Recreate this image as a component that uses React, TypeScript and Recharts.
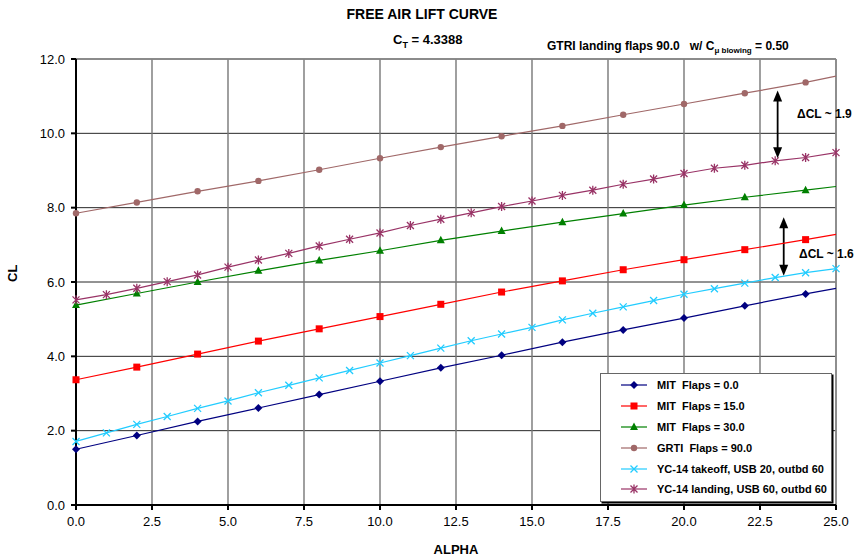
import { CartesianGrid, Line, LineChart, ReferenceLine, XAxis, YAxis } from 'recharts'

// angle of attack for every sample (YC-14 sets are sampled each degree)
const alpha = [0, 1, 2, 3, 4, 5, 6, 7, 8, 9, 10, 11, 12, 13, 14, 15, 16, 17, 18, 19, 20, 21, 22, 23, 24, 25]

// MIT / GTRI sets are read at even alpha, plus the line end at 25
const evenAlpha = [0, 2, 4, 6, 8, 10, 12, 14, 16, 18, 20, 22, 24, 25]
const mitFlaps0 = [1.5, 1.87, 2.25, 2.61, 2.97, 3.33, 3.69, 4.03, 4.38, 4.71, 5.03, 5.36, 5.68, 5.83]
const mitFlaps15 = [3.37, 3.71, 4.06, 4.41, 4.74, 5.07, 5.4, 5.73, 6.03, 6.33, 6.6, 6.87, 7.14, 7.28]
const mitFlaps30 = [5.38, 5.69, 6.0, 6.3, 6.58, 6.84, 7.12, 7.37, 7.61, 7.84, 8.07, 8.28, 8.47, 8.57]
const grtiFlaps90 = [7.85, 8.14, 8.44, 8.72, 9.02, 9.33, 9.63, 9.92, 10.2, 10.5, 10.79, 11.08, 11.37, 11.54]

const yc14Takeoff = [1.71, 1.94, 2.17, 2.38, 2.6, 2.8, 3.02, 3.22, 3.42, 3.62, 3.82, 4.02, 4.22, 4.42, 4.6, 4.78, 4.98, 5.16, 5.33, 5.5, 5.67, 5.82, 5.97, 6.12, 6.25, 6.36]
const yc14Landing = [5.52, 5.66, 5.83, 6.01, 6.19, 6.4, 6.59, 6.77, 6.97, 7.15, 7.32, 7.52, 7.69, 7.86, 8.03, 8.18, 8.33, 8.47, 8.63, 8.77, 8.92, 9.06, 9.14, 9.26, 9.35, 9.48]

const xTicks = [0, 2.5, 5, 7.5, 10, 12.5, 15, 17.5, 20, 22.5, 25]
const yTicks = [0, 2, 4, 6, 8, 10, 12]

// delta CL arrows: [alpha, from CL, to CL]
const deltaArrows = [
  [23.08, 11.15, 9.33],
  [23.28, 7.74, 6.17],
]

const pick = (vals: number[], a: number) => {
  const i = evenAlpha.indexOf(a)
  return i >= 0 ? vals[i] : undefined
}

const chartData = alpha.map((a, i) => ({
  alpha: a,
  mit0: pick(mitFlaps0, a),
  mit15: pick(mitFlaps15, a),
  mit30: pick(mitFlaps30, a),
  grti90: pick(grtiFlaps90, a),
  takeoff: yc14Takeoff[i],
  landing: yc14Landing[i],
}))

type MarkerKind = 'diamond' | 'square' | 'triangle' | 'circle' | 'cross' | 'star'

const series: { key: string; name: string; color: string; marker: MarkerKind; skipLast: boolean }[] = [
  { key: 'mit0', name: 'MIT  Flaps = 0.0', color: '#000080', marker: 'diamond', skipLast: true },
  { key: 'mit15', name: 'MIT  Flaps = 15.0', color: '#ff0000', marker: 'square', skipLast: true },
  { key: 'mit30', name: 'MIT  Flaps = 30.0', color: '#008000', marker: 'triangle', skipLast: true },
  { key: 'grti90', name: 'GRTI  Flaps = 90.0', color: '#a06868', marker: 'circle', skipLast: true },
  { key: 'takeoff', name: 'YC-14 takeoff, USB 20, outbd 60', color: '#22ccff', marker: 'cross', skipLast: false },
  { key: 'landing', name: 'YC-14 landing, USB 60, outbd 60', color: '#993366', marker: 'star', skipLast: false },
]

const font = '"Liberation Sans", Arial, sans-serif'

function Marker({ kind, x, y, color }: { kind: MarkerKind; x: number; y: number; color: string }) {
  switch (kind) {
    case 'diamond':
      return <polygon points={`${x},${y - 4} ${x + 4},${y} ${x},${y + 4} ${x - 4},${y}`} fill={color} />
    case 'square':
      return <rect x={x - 3.5} y={y - 3.5} width={7} height={7} fill={color} />
    case 'triangle':
      return <polygon points={`${x},${y - 4.5} ${x + 4},${y + 3} ${x - 4},${y + 3}`} fill={color} />
    case 'circle':
      return <circle cx={x} cy={y} r={3.2} fill={color} />
    case 'cross':
      return (
        <path d={`M${x - 3.5},${y - 3.5}L${x + 3.5},${y + 3.5}M${x - 3.5},${y + 3.5}L${x + 3.5},${y - 3.5}`} stroke={color} strokeWidth={1.3} />
      )
    case 'star':
      return (
        <path
          d={`M${x - 3.5},${y - 3.5}L${x + 3.5},${y + 3.5}M${x - 3.5},${y + 3.5}L${x + 3.5},${y - 3.5}M${x},${y - 4.5}L${x},${y + 4.5}`}
          stroke={color}
          strokeWidth={1.3}
        />
      )
  }
}

function ArrowShape(props: any) {
  const { x1, y1, x2, y2 } = props
  const w = 4.5
  const h = 11
  return (
    <g>
      <line x1={x1} y1={y1 + h - 1} x2={x2} y2={y2 - h + 1} stroke="#000" strokeWidth={1.8} />
      <polygon points={`${x1},${y1} ${x1 + w},${y1 + h} ${x1 - w},${y1 + h}`} fill="#000" />
      <polygon points={`${x2},${y2} ${x2 + w},${y2 - h} ${x2 - w},${y2 - h}`} fill="#000" />
    </g>
  )
}

function LegendBox() {
  return (
    <div
      style={{
        position: 'absolute',
        left: 600,
        top: 373,
        width: 232,
        height: 129,
        boxSizing: 'border-box',
        background: '#fff',
        border: '1px solid #666',
        boxShadow: '1.5px 1.5px 0 #000',
        padding: '1px 0 0 0',
        fontFamily: font,
        fontSize: 11,
        fontWeight: 'bold',
        color: '#000',
      }}
    >
      {series.map(s => (
        <div key={s.key} style={{ display: 'flex', alignItems: 'center', height: 20.8 }}>
          <svg width={56} height={14} style={{ flex: 'none' }}>
            <line x1={20} y1={7} x2={46} y2={7} stroke={s.color} strokeWidth={1.2} />
            <Marker kind={s.marker} x={33} y={7} color={s.color} />
          </svg>
          <span style={{ whiteSpace: 'pre' }}>{s.name}</span>
        </div>
      ))}
    </div>
  )
}

const textStyle = { position: 'absolute' as const, fontFamily: font, fontWeight: 'bold' as const, color: '#000', whiteSpace: 'nowrap' as const }

export default function App() {
  return (
    <div style={{ position: 'absolute', left: 0, top: 0, width: 855, height: 556, background: '#fff' }}>
      <LineChart width={855} height={556} data={chartData} margin={{ top: 59, right: 19, left: 0, bottom: 0 }}>
        <CartesianGrid vertical={false} stroke="#000" strokeWidth={1} strokeOpacity={0.85} />
        <CartesianGrid horizontal={false} stroke="#777" strokeWidth={1.4} />
        <ReferenceLine y={12} stroke="#888" strokeWidth={1.5} />
        <ReferenceLine x={25} stroke="#888" strokeWidth={1.5} />
        <XAxis
          dataKey="alpha"
          type="number"
          domain={[0, 25]}
          ticks={xTicks}
          tickFormatter={(v: number) => v.toFixed(1)}
          tick={{ fontSize: 13, fill: '#000', fontFamily: font }}
          stroke="#000"
          strokeWidth={2}
          tickSize={5}
          tickMargin={7}
          height={51}
          label={{ value: 'ALPHA', position: 'insideBottom', offset: 2, fontSize: 13, fontWeight: 'bold', fill: '#000', fontFamily: font }}
        />
        <YAxis
          type="number"
          domain={[0, 12]}
          ticks={yTicks}
          tickFormatter={(v: number) => v.toFixed(1)}
          tick={{ fontSize: 13, fill: '#000', fontFamily: font }}
          stroke="#000"
          strokeWidth={2}
          width={76}
          tickSize={5}
          tickMargin={6}
          label={{ value: 'CL', angle: -90, position: 'insideLeft', offset: 12, fontSize: 13, fontWeight: 'bold', fill: '#000', fontFamily: font }}
        />
        {deltaArrows.map(([a, from, to], i) => (
          <ReferenceLine
            key={i}
            segment={[{ x: a, y: from }, { x: a, y: to }]}
            shape={ArrowShape}
          />
        ))}
        {series.map(s => (
          <Line
            key={s.key}
            dataKey={s.key}
            name={s.name}
            stroke={s.color}
            strokeWidth={1.2}
            connectNulls
            isAnimationActive={false}
            activeDot={false}
            dot={(p: any) => {
              const last = s.skipLast && p.payload.alpha === 25
              if (last || p.value == null || p.cy == null) return <g key={`${s.key}-${p.index}`} />
              return (
                <g key={`${s.key}-${p.index}`}>
                  <Marker kind={s.marker} x={p.cx} y={p.cy} color={s.color} />
                </g>
              )
            }}
          />
        ))}
      </LineChart>

      <LegendBox />
      <div style={{ ...textStyle, left: 0, width: 844, top: 6, textAlign: 'center', fontSize: 14 }}>FREE AIR LIFT CURVE</div>
      <div style={{ ...textStyle, left: 393, top: 32, fontSize: 13 }}>
        C<sub style={{ fontSize: 9 }}>T</sub> = 4.3388
      </div>
      <div style={{ ...textStyle, left: 547, top: 39, fontSize: 12 }}>
        GTRI landing flaps 90.0&nbsp;&nbsp; w/ C<sub style={{ fontSize: 8 }}>μ blowing</sub> = 0.50
      </div>
      <div style={{ ...textStyle, left: 797, top: 107, fontSize: 12 }}>ΔCL ~ 1.9</div>
      <div style={{ ...textStyle, left: 799, top: 247, fontSize: 12 }}>ΔCL ~ 1.6</div>
    </div>
  )
}
